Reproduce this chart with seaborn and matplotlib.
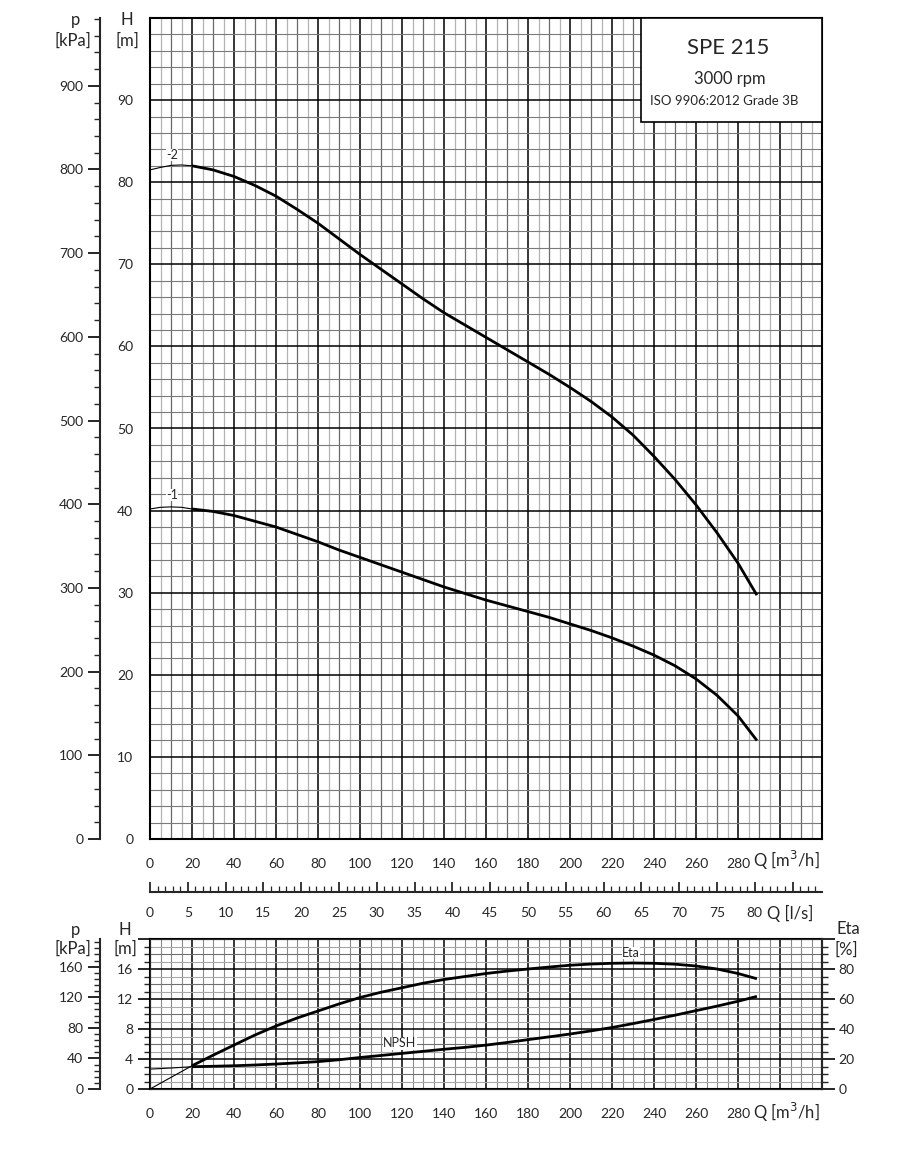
import numpy as np
import pandas as pd
import matplotlib
matplotlib.use("Agg")
import matplotlib.pyplot as plt
import seaborn as sns

# pump curves, Q in m3/h
q_head = [0, 5, 10, 15, 20, 30, 40, 50, 60, 70, 80, 90, 100, 110, 120, 130, 140,
          150, 160, 170, 180, 190, 200, 210, 220, 230, 240, 250, 260, 270, 280, 289]
head_2 = [81.5, 81.8, 82.05, 82.1, 82.0, 81.5, 80.7, 79.6, 78.3, 76.7, 75.0, 73.1,
          71.2, 69.4, 67.6, 65.8, 64.1, 62.6, 61.1, 59.6, 58.1, 56.6, 55.0, 53.3,
          51.4, 49.2, 46.6, 43.8, 40.7, 37.3, 33.6, 29.7]
head_1 = [40.2, 40.4, 40.45, 40.4, 40.2, 39.9, 39.4, 38.7, 38.0, 37.1, 36.2, 35.2,
          34.3, 33.4, 32.5, 31.6, 30.7, 29.9, 29.1, 28.4, 27.7, 27.0, 26.2, 25.4,
          24.5, 23.5, 22.4, 21.1, 19.5, 17.5, 15.0, 12.0]

q_low = [0, 10, 20, 30, 40, 50, 60, 70, 80, 90, 100, 110, 120, 130, 140, 150, 160,
         170, 180, 190, 200, 210, 220, 230, 240, 250, 260, 270, 280, 289]
eta = [0, 7.75, 15.5, 22.5, 29.3, 36.0, 42.0, 47.3, 52.0, 56.7, 61.0, 64.5, 67.5,
       70.5, 73.0, 75.0, 77.0, 78.6, 80.0, 81.3, 82.5, 83.3, 83.8, 84.0, 83.8, 83.2,
       82.0, 80.0, 77.0, 73.5]
npsh = [2.65, 2.8, 2.97, 3.03, 3.1, 3.2, 3.33, 3.48, 3.65, 3.9, 4.2, 4.47, 4.75,
        5.02, 5.3, 5.55, 5.85, 6.2, 6.58, 6.95, 7.33, 7.75, 8.2, 8.72, 9.27, 9.84,
        10.45, 11.05, 11.7, 12.35]

curve_labels = ["-1", "-2"]
Q_THIN = 20      # curves are drawn thin below this flow

sns.set_style("white")
plt.rcParams["font.family"] = ["Lato", "DejaVu Sans"]

fig = plt.figure(figsize=(9, 11.55), dpi=100)


def fx(px):
    return px / 900


def fy(py):
    return 1 - py / 1155


def draw_curve(ax, q, v):
    df = pd.DataFrame({"q": q, "v": v})
    sns.lineplot(data=df[df.q <= Q_THIN], x="q", y="v", ax=ax, color="black",
                 lw=0.8, zorder=4)
    sns.lineplot(data=df[df.q >= Q_THIN], x="q", y="v", ax=ax, color="black",
                 lw=2.0, zorder=4, solid_joinstyle="round", solid_capstyle="butt")
    ax.set_xlabel("")
    ax.set_ylabel("")


def q_ticks(ax):
    ax.set_xlim(0, 320)
    ax.set_xticks(np.arange(0, 321, 20))
    ax.set_xticklabels([str(v) if v <= 280 else "" for v in range(0, 321, 20)])
    ax.set_xticks(np.arange(0, 321, 5), minor=True)
    ax.tick_params(axis="x", which="major", length=8, width=1.4, labelsize=10, pad=6)
    ax.tick_params(axis="x", which="minor", length=4, width=1.0)


def upto(top):
    return lambda v, pos: "" if v > top + 1e-6 else f"{v:g}"


# ---------------- head chart ----------------
ax = fig.add_axes([fx(150), fy(839), fx(822) - fx(150), fy(18) - fy(839)])
ax.set_ylim(0, 100)
for q in np.arange(5, 320, 5):
    if q % 20 == 0:
        ax.axvline(q, color="black", lw=1.1, zorder=1)
    elif q % 10 == 0:
        ax.axvline(q, color="#6a6a6a", lw=0.9, zorder=1)
    else:
        ax.axvline(q, color="#b4b4b4", lw=0.9, zorder=1)
for h in np.arange(2, 100, 2):
    if h % 10 == 0:
        ax.axhline(h, color="black", lw=1.1, zorder=1)
    else:
        ax.axhline(h, color="#7a7a7a", lw=0.8, zorder=1)

draw_curve(ax, q_head, head_2)
draw_curve(ax, q_head, head_1)
ax.text(10.5, 83.3, curve_labels[1], fontsize=9, ha="center", va="center",
        bbox=dict(fc="white", ec="none", pad=0.3), zorder=5)
ax.text(10.5, 41.9, curve_labels[0], fontsize=9, ha="center", va="center",
        bbox=dict(fc="white", ec="none", pad=0.3), zorder=5)

q_ticks(ax)
ax.set_yticks(np.arange(0, 101, 10))
ax.set_yticks(np.arange(0, 101, 2), minor=True)
ax.yaxis.set_major_formatter(upto(90))
ax.tick_params(axis="y", which="major", length=9, width=1.4, labelsize=10, pad=3)
ax.tick_params(axis="y", which="minor", length=4, width=1.0)
for s in ax.spines.values():
    s.set_linewidth(1.5)
    s.set_color("black")

p_top = ax.secondary_yaxis(-50 / 672, functions=(lambda h: h * 9.81, lambda p: p / 9.81))
p_top.set_yticks(np.arange(0, 1000, 100))
p_top.set_yticks(np.arange(0, 990, 20), minor=True)
p_top.tick_params(axis="y", which="major", length=9, width=1.4, labelsize=10, pad=3)
p_top.tick_params(axis="y", which="minor", length=4, width=1.0)
p_top.spines["left"].set_linewidth(1.5)

ls_axis = ax.secondary_xaxis(-53 / 821, functions=(lambda q: q / 3.6, lambda l: l * 3.6))
ls_axis.set_xticks(np.arange(0, 89, 5))
ls_axis.set_xticklabels([str(v) if v <= 80 else "" for v in range(0, 89, 5)])
ls_axis.set_xticks(np.arange(0, 89, 1), minor=True)
ls_axis.tick_params(axis="x", which="major", direction="in", length=7, width=1.3,
                    labelsize=10, pad=11)
ls_axis.tick_params(axis="x", which="minor", direction="in", length=4, width=0.9)
ls_axis.spines["bottom"].set_linewidth(1.5)

# info box
fig.add_artist(plt.Rectangle((fx(641), fy(122)), fx(822) - fx(641), fy(18) - fy(122),
                             transform=fig.transFigure, fc="white", ec="black", lw=1.2))
fig.text(fx(728), fy(48), "SPE 215", fontsize=16, ha="center", va="center")
fig.text(fx(730), fy(79), "3000 rpm", fontsize=12, ha="center", va="center")
fig.text(fx(724), fy(101), "ISO 9906:2012 Grade 3B", fontsize=9.5, ha="center", va="center")

# ---------------- NPSH / efficiency chart ----------------
axb = fig.add_axes([fx(150), fy(1089), fx(822) - fx(150), fy(939) - fy(1089)])
axb.set_ylim(0, 20)
for q in np.arange(5, 320, 5):
    if q % 20 == 0:
        axb.axvline(q, color="black", lw=1.1, zorder=1)
    else:
        axb.axvline(q, color="#8a8a8a", lw=0.8, zorder=1)
for h in np.arange(1, 20, 1):
    if h % 4 == 0:
        axb.axhline(h, color="black", lw=1.1, zorder=1)
    elif h % 2 == 0:
        axb.axhline(h, color="#707070", lw=0.8, zorder=1)
    else:
        axb.axhline(h, color="#a8a8a8", lw=0.8, zorder=1)

draw_curve(axb, q_low, npsh)
axb.text(119, 6.1, "NPSH", fontsize=9, ha="center", va="center",
         bbox=dict(fc="white", ec="none", pad=0.3), zorder=5)
q_ticks(axb)
axb.set_yticks(np.arange(0, 21, 4))
axb.set_yticks(np.arange(0, 21, 1), minor=True)
axb.yaxis.set_major_formatter(upto(16))
axb.tick_params(axis="y", which="major", length=9, width=1.4, labelsize=10, pad=3)
axb.tick_params(axis="y", which="minor", length=4, width=1.0)
for s in axb.spines.values():
    s.set_linewidth(1.5)
    s.set_color("black")

axe = axb.twinx()
axe.set_ylim(0, 100)
draw_curve(axe, q_low, eta)
axe.text(229, 90.7, "Eta", fontsize=9, ha="center", va="center",
         bbox=dict(fc="white", ec="none", pad=0.3), zorder=5)
axe.set_yticks(np.arange(0, 101, 20))
axe.set_yticks(np.arange(0, 101, 5), minor=True)
axe.yaxis.set_major_formatter(upto(80))
axe.tick_params(axis="y", which="major", length=9, width=1.4, labelsize=10, pad=3)
axe.tick_params(axis="y", which="minor", length=4, width=1.0)
axe.spines["right"].set_linewidth(1.5)

p_low = axb.secondary_yaxis(-50 / 672, functions=(lambda h: h * 9.81, lambda p: p / 9.81))
p_low.set_yticks(np.arange(0, 161, 40))
p_low.set_yticks(np.arange(0, 197, 8), minor=True)
p_low.tick_params(axis="y", which="major", length=9, width=1.4, labelsize=10, pad=3)
p_low.tick_params(axis="y", which="minor", length=4, width=1.0)
p_low.spines["left"].set_linewidth(1.5)

# axis captions
cap = dict(fontsize=12, ha="center", va="center")
fig.text(fx(75), fy(20), "p", **cap)
fig.text(fx(73), fy(41), "[kPa]", **cap)
fig.text(fx(127), fy(20), "H", **cap)
fig.text(fx(127), fy(41), "[m]", **cap)
fig.text(fx(786), fy(860), "Q [m$^3$/h]", **cap)
fig.text(fx(790), fy(913), "Q [l/s]", **cap)
fig.text(fx(76), fy(930), "p", **cap)
fig.text(fx(73), fy(949), "[kPa]", **cap)
fig.text(fx(125), fy(930), "H", **cap)
fig.text(fx(125), fy(949), "[m]", **cap)
fig.text(fx(848), fy(929), "Eta", **cap)
fig.text(fx(846), fy(950), "[%]", **cap)
fig.text(fx(786), fy(1112), "Q [m$^3$/h]", **cap)

fig.savefig("out.png", dpi=100)
